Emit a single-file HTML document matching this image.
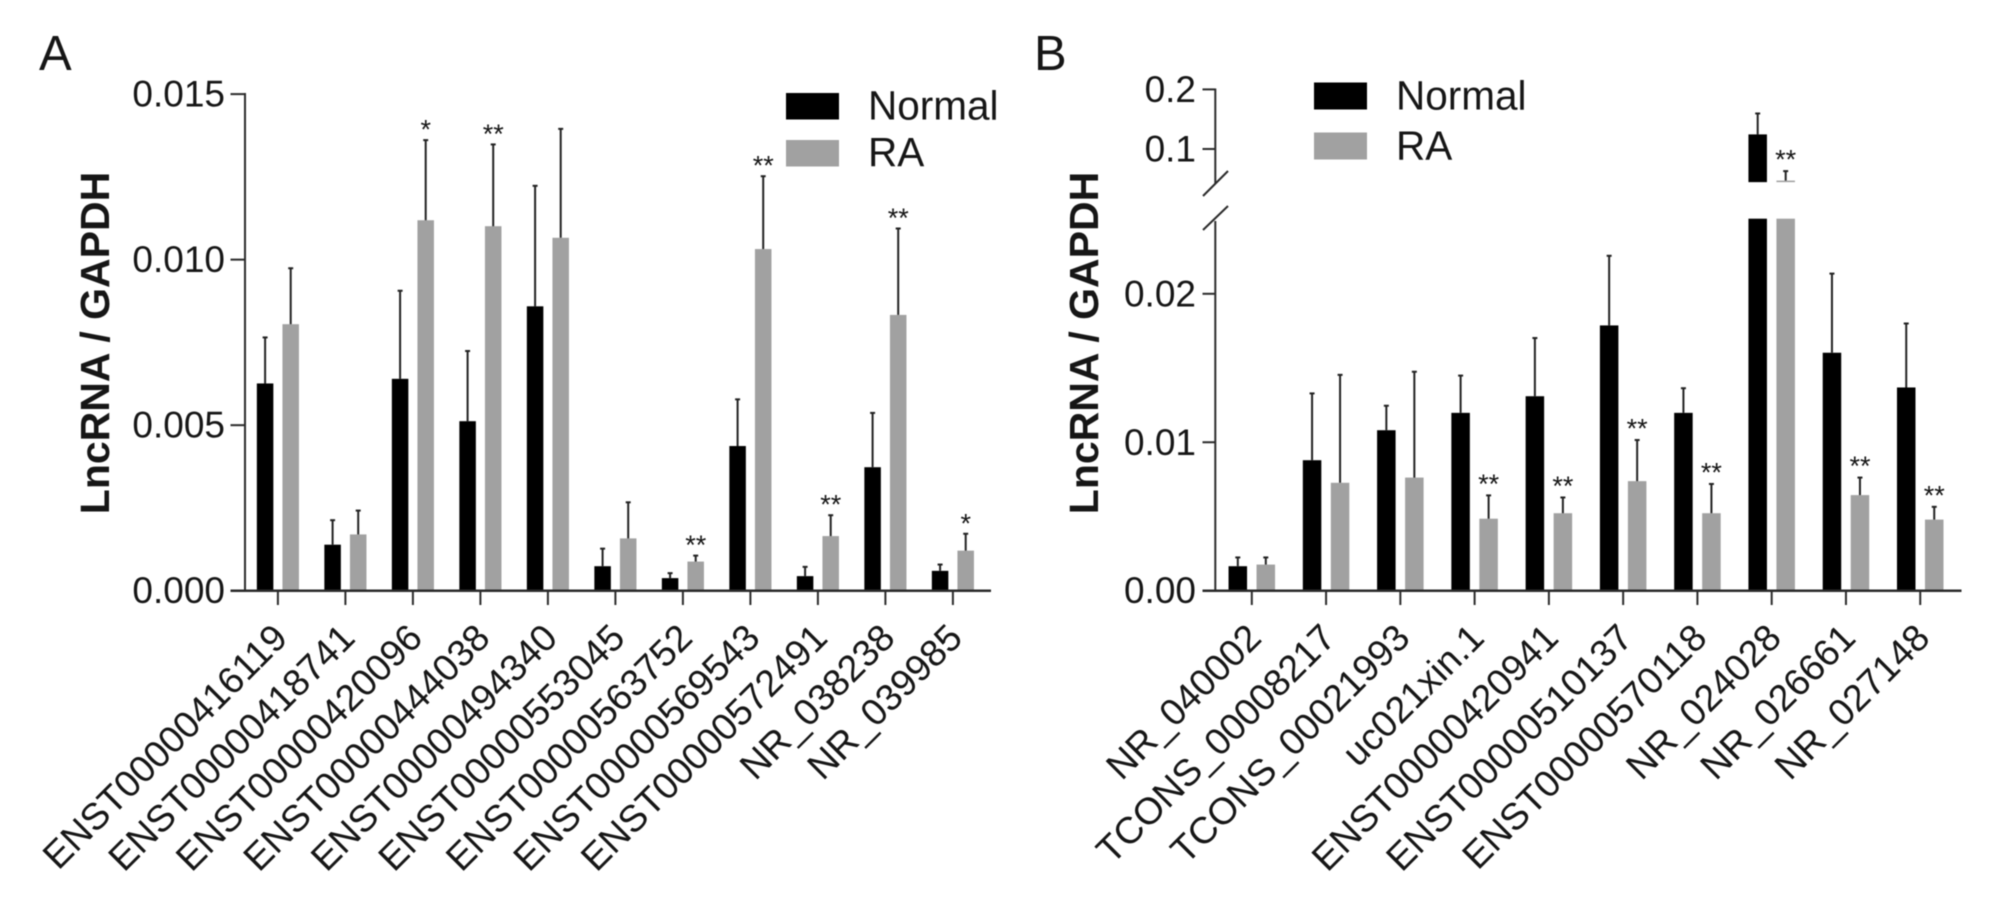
<!DOCTYPE html>
<html lang="en">
<head>
<meta charset="utf-8">
<title>LncRNA / GAPDH expression</title>
<style>
html,body{margin:0;padding:0;background:#fff;}
body{width:2008px;height:910px;overflow:hidden;}
svg{display:block;filter:blur(0.6px);}
text{font-family:"Liberation Sans",sans-serif;fill:#161616;}
</style>
</head>
<body>
<svg id="figure" width="2008" height="910" viewBox="0 0 2008 910" xmlns="http://www.w3.org/2000/svg">
  <rect x="0" y="0" width="2008" height="910" fill="#ffffff"/>
  <g id="panelA">
    <text x="39" y="70" font-size="49">A</text>
    <text transform="translate(109,343) rotate(-90)" text-anchor="middle" font-size="41" font-weight="bold">LncRNA / GAPDH</text>
    <rect x="786" y="93" width="53" height="26.5" fill="#000"/>
    <text x="868" y="119.5" font-size="40.5">Normal</text>
    <rect x="786" y="140" width="53" height="26.5" fill="#a1a1a1"/>
    <text x="868" y="166" font-size="40.5">RA</text>
  </g>
  <g id="panelB">
    <text x="1034" y="70" font-size="49">B</text>
    <text transform="translate(1098,343) rotate(-90)" text-anchor="middle" font-size="41" font-weight="bold">LncRNA / GAPDH</text>
    <rect x="1314" y="82.5" width="53" height="27" fill="#000"/>
    <text x="1396" y="109.5" font-size="40.5">Normal</text>
    <rect x="1314" y="132.5" width="53" height="27" fill="#a1a1a1"/>
    <text x="1396" y="159.5" font-size="40.5">RA</text>
  </g>
</svg>
<script>
var categoriesA = ['ENST00000416119','ENST00000418741','ENST00000420096','ENST00000444038','ENST00000494340','ENST00000553045','ENST00000563752','ENST00000569543','ENST00000572491','NR_038238','NR_039985'];
var normalA = [0.00626,0.00139,0.0064,0.00512,0.00859,0.00074,0.00038,0.00437,0.00044,0.00373,0.0006];
var normalErrTopA = [0.00765,0.00213,0.00906,0.00724,0.01223,0.00127,0.00053,0.00578,0.00072,0.00537,0.00079];
var raA = [0.00805,0.0017,0.01119,0.01101,0.01066,0.00158,0.00088,0.01032,0.00165,0.00833,0.00121];
var raErrTopA = [0.00974,0.00242,0.01361,0.01348,0.01395,0.00267,0.00106,0.01252,0.00228,0.01094,0.00172];
var starsA = ['','','*','**','','','**','**','**','**','*'];
var tickValuesA = [0,0.005,0.01,0.015];
var tickLabelsA = ['0.000','0.005','0.010','0.015'];

var categoriesB = ['NR_040002','TCONS_00008217','TCONS_00021993','uc021xin.1','ENST00000420941','ENST00000510137','ENST00000570118','NR_024028','NR_026661','NR_027148'];
var normalB = [0.00165,0.00879,0.01081,0.01198,0.0131,0.01787,0.01198,0.1245,0.01603,0.01369];
var normalErrTopB = [0.00224,0.01329,0.01246,0.01449,0.01702,0.02256,0.01364,0.1596,0.02136,0.018];
var raB = [0.00176,0.00727,0.00762,0.00485,0.00522,0.00738,0.00522,0.047,0.00644,0.00479];
var raErrTopB = [0.00224,0.01454,0.01475,0.00642,0.00628,0.01015,0.00719,0.0629,0.00762,0.00565];
var starsB = ['','','','**','**','**','**','**','**','**'];
var tickValuesBLow = [0,0.01,0.02];
var tickLabelsBLow = ['0.00','0.01','0.02'];
var tickValuesBHigh = [0.1,0.2];
var tickLabelsBHigh = ['0.1','0.2'];

var NS = 'http://www.w3.org/2000/svg';
var AXIS = '#2b2b2b', GRAY = '#a1a1a1';

function make(parent, tag, attrs, content) {
  var el = document.createElementNS(NS, tag);
  for (var k in attrs) el.setAttribute(k, attrs[k]);
  if (content !== undefined) el.textContent = content;
  parent.appendChild(el);
  return el;
}

/* ---------- scales ---------- */
var BASE_Y = 590.7;
function yA(v) { return BASE_Y - v * (BASE_Y - 94.1) / 0.015; }
function xA(i) { return 277.9 + 67.5 * i; }

var BREAK_LOW = 0.02506, BREAK_HIGH = 0.0444;
function yBLow(v) { return BASE_Y - v * (BASE_Y - 293.8) / 0.02; }
function yBHigh(v) { return 149 - (v - 0.1) * (149 - 89.4) / 0.1; }
function yB(v) { return v <= BREAK_LOW ? yBLow(v) : yBHigh(v); }
function xB(i) { return 1251.8 + 74.27 * i; }

function drawError(g, x, top, fromY, name) {
  var stem = make(g, 'line', {x1:x, x2:x, y1:fromY, y2:top, stroke:'#222', 'stroke-width':2});
  
  
  var cap = make(g, 'line', {x1:x-2.5, x2:x+2.5, y1:top, y2:top, stroke:'#222', 'stroke-width':2});
  
  
}

function drawStars(g, x, errY, s, offset) {
  if (!s) return;
  var t = make(g, 'text', {x:x, y:errY - offset + 15, 'text-anchor':'middle', 'font-size':27, fill:'#1a1a1a'}, s);
  
  
}

function drawXLabels(g, cats, xf) {
  cats.forEach(function (c, i) {
    var tick = make(g, 'line', {x1:xf(i), x2:xf(i), y1:BASE_Y, y2:605, stroke:AXIS, 'stroke-width':2});
    
    
    var ax = xf(i) + 11.5, ay = 640;
    var lab = make(g, 'text', {x:ax, y:ay, 'text-anchor':'end', 'font-size':37.5, transform:'rotate(-45 ' + ax + ' ' + ay + ')'}, c);
    
    
  });
}

function drawYTicks(g, values, labels, yf, tickX0, tickX1, labelX) {
  values.forEach(function (v, i) {
    var y = yf(v);
    var tick = make(g, 'line', {x1:tickX0, x2:tickX1, y1:y, y2:y, stroke:AXIS, 'stroke-width':2});
    
    
    var lab = make(g, 'text', {x:labelX, y:y + 12.5, 'text-anchor':'end', 'font-size':37}, labels[i]);
    
    
  });
}

/* ---------- panel A ---------- */
(function () {
  var g = document.getElementById('panelA');
  var W = 16.5, OFF = 12.8;
  categoriesA.forEach(function (c, i) {
    [[normalA, normalErrTopA, -OFF, '#000', 'normal'], [raA, raErrTopA, OFF, GRAY, 'ra']].forEach(function (s) {
      var x = xA(i) + s[2], top = yA(s[0][i]);
      var bar = make(g, 'rect', {x:x - W/2, y:top, width:W, height:BASE_Y - top, fill:s[3]});
      
      
      drawError(g, x, yA(s[1][i]), top, 'bar-' + s[4]);
    });
    drawStars(g, xA(i) + OFF, yA(raErrTopA[i]), starsA[i], 16.5);
  });
  var yAxis = make(g, 'line', {x1:245, x2:245, y1:93, y2:BASE_Y, stroke:AXIS, 'stroke-width':2});
  
  
  var xAxis = make(g, 'line', {x1:230.5, x2:991, y1:BASE_Y, y2:BASE_Y, stroke:AXIS, 'stroke-width':2.5});
  
  
  drawYTicks(g, tickValuesA, tickLabelsA, yA, 230.5, 245, 225);
  drawXLabels(g, categoriesA, xA);
})();

/* ---------- panel B ---------- */
(function () {
  var g = document.getElementById('panelB');
  var W = 18.5, OFF = 14;
  var lowTop = yBLow(BREAK_LOW), highBottom = yBHigh(BREAK_HIGH);
  categoriesB.forEach(function (c, i) {
    [[normalB, normalErrTopB, -OFF, '#000', 'normal'], [raB, raErrTopB, OFF, GRAY, 'ra']].forEach(function (s) {
      var x = xB(i) + s[2], v = s[0][i], top = yB(v);
      if (v > BREAK_LOW) {
        var low = make(g, 'rect', {x:x - W/2, y:lowTop, width:W, height:BASE_Y - lowTop, fill:s[3]});
        
        
        var high = make(g, 'rect', {x:x - W/2, y:top, width:W, height:Math.max(highBottom - top, 0), fill:s[3]});
        
        
      } else {
        var bar = make(g, 'rect', {x:x - W/2, y:top, width:W, height:BASE_Y - top, fill:s[3]});
        
        
      }
      drawError(g, x, yB(s[1][i]), top, 'bar-' + s[4]);
    });
    drawStars(g, xB(i) + OFF, yB(raErrTopB[i]), starsB[i], 17.5);
  });
  var lowAxis = make(g, 'line', {x1:1215.3, x2:1215.3, y1:221, y2:BASE_Y, stroke:AXIS, 'stroke-width':2});
  
  
  var highAxis = make(g, 'line', {x1:1215.3, x2:1215.3, y1:88.5, y2:184, stroke:AXIS, 'stroke-width':2});
  
  
  var brk1 = make(g, 'line', {x1:1203, x2:1228, y1:196, y2:171, stroke:AXIS, 'stroke-width':2});
  
  
  var brk2 = make(g, 'line', {x1:1203, x2:1228, y1:230, y2:206, stroke:AXIS, 'stroke-width':2});
  
  
  var xAxis = make(g, 'line', {x1:1202.5, x2:1961.5, y1:BASE_Y, y2:BASE_Y, stroke:AXIS, 'stroke-width':2.5});
  
  
  drawYTicks(g, tickValuesBLow, tickLabelsBLow, yBLow, 1202.5, 1215.3, 1196);
  drawYTicks(g, tickValuesBHigh, tickLabelsBHigh, yBHigh, 1202.5, 1215.3, 1196);
  drawXLabels(g, categoriesB, xB);
})();
</script>
</body>
</html>
